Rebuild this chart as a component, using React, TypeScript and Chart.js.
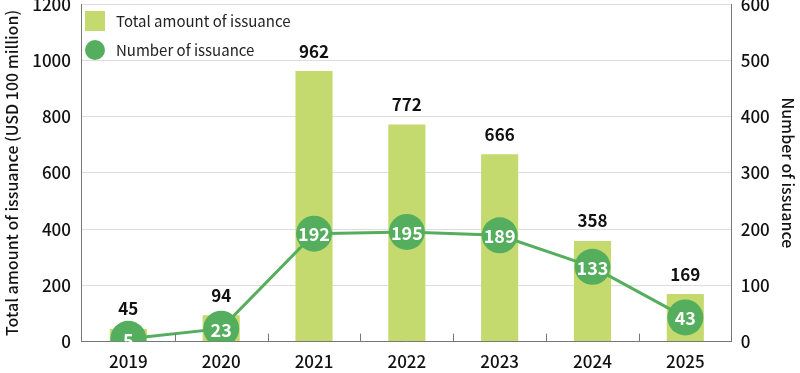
import React, { useEffect, useRef } from "react";
import { Chart, registerables } from "chart.js";

Chart.register(...registerables);

const years = ["2019", "2020", "2021", "2022", "2023", "2024", "2025"];
const totalAmount = [45, 94, 962, 772, 666, 358, 169];
const issuanceCount = [5, 23, 192, 195, 189, 133, 43];

const BAR_COLOR = "#c5da6e";
const POINT_COLOR = "#55ae5e";
const FONT = "'Noto Sans CJK JP', 'Noto Sans', sans-serif";
const SHIFT = 17;
const CANVAS_H = 399;

const labelPlugin = {
  id: "labels",
  afterDatasetsDraw(chart: any) {
    const ctx = chart.ctx;
    ctx.save();
    const barMeta = chart.getDatasetMeta(0);
    ctx.font = `bold 17px ${FONT}`;
    ctx.fillStyle = "#111";
    ctx.textAlign = "center";
    ctx.textBaseline = "middle";
    barMeta.data.forEach((el: any, i: number) => {
      ctx.fillText(String(totalAmount[i]), el.x, el.y - 20);
    });
    const lineMeta = chart.getDatasetMeta(1);
    ctx.font = `bold 18px ${FONT}`;
    ctx.fillStyle = "#ffffff";
    lineMeta.data.forEach((el: any, i: number) => {
      ctx.fillText(String(issuanceCount[i]), el.x, el.y + 1);
    });
    ctx.restore();
  },
};

const tickPlugin = {
  id: "innerTicks",
  afterDraw(chart: any) {
    const ctx = chart.ctx;
    const x = chart.scales.x;
    const area = chart.chartArea;
    ctx.save();
    ctx.strokeStyle = "#777";
    ctx.lineWidth = 1;
    for (let i = 1; i < years.length; i++) {
      const px = Math.round((x.getPixelForValue(i - 1) + x.getPixelForValue(i)) / 2) + 0.5;
      ctx.beginPath();
      ctx.moveTo(px, area.bottom);
      ctx.lineTo(px, area.bottom - 8);
      ctx.stroke();
    }
    ctx.restore();
  },
};

const plainTick = (v: any) => String(v);
const TICK_FONT = { family: FONT, size: 17, weight: 500 as any };

export default function App() {
  const ref = useRef<HTMLCanvasElement>(null);
  useEffect(() => {
    document.body.style.margin = "0";
    const chart = new Chart(ref.current!, {
      type: "bar",
      data: {
        labels: years,
        datasets: [
          {
            type: "bar",
            label: "Total amount of issuance",
            data: totalAmount,
            backgroundColor: BAR_COLOR,
            yAxisID: "y",
            barPercentage: 0.4,
            categoryPercentage: 1,
            order: 2,
          },
          {
            type: "line",
            label: "Number of issuance",
            data: issuanceCount,
            borderColor: POINT_COLOR,
            backgroundColor: POINT_COLOR,
            pointBackgroundColor: POINT_COLOR,
            pointBorderColor: POINT_COLOR,
            borderWidth: 3,
            pointRadius: 18,
            pointBorderWidth: 0,
            yAxisID: "y1",
            order: 1,
            tension: 0,
          } as any,
        ],
      },
      options: {
        responsive: false,
        animation: false,
        layout: { padding: { top: 0, left: 2, right: 2, bottom: 0 } },
        plugins: { legend: { display: false }, tooltip: { enabled: false } },
        scales: {
          x: {
            grid: { display: false, drawTicks: false },
            border: { color: "#777", width: 1 },
            ticks: { color: "#111", font: TICK_FONT, padding: 10 },
          },
          y: {
            position: "left",
            min: 0,
            max: 1200,
            ticks: { stepSize: 200, callback: plainTick, color: "#111", font: TICK_FONT, padding: 11 },
            grid: { color: "#dddddd", drawTicks: false },
            border: { color: "#777", width: 1 },
            title: {
              display: true,
              text: "Total amount of issuance (USD 100 million)",
              color: "#111",
              font: { family: FONT, size: 16, weight: 500 as any },
              padding: { top: 0, bottom: 0 },
            },
          },
          y1: {
            position: "right",
            min: 0,
            max: 600,
            ticks: { stepSize: 100, callback: plainTick, color: "#111", font: TICK_FONT, padding: 9 },
            grid: { display: false, drawTicks: false },
            border: { color: "#777", width: 1 },
            title: {
              display: true,
              text: "Number of issuance",
              color: "#111",
              font: { family: FONT, size: 16, weight: 500 as any },
              padding: { top: 0, bottom: 0 },
            },
          },
        },
      },
      plugins: [labelPlugin, tickPlugin],
    });
    return () => chart.destroy();
  }, []);

  return (
    <div style={{ position: "relative", width: 800, height: 373, overflow: "hidden" }}>
      <canvas
        ref={ref}
        width={800}
        height={CANVAS_H}
        style={{ display: "block", marginTop: -SHIFT }}
      />
      <div
        style={{
          position: "absolute",
          left: 85,
          top: 6,
          fontFamily: FONT,
          fontSize: 15,
          color: "#222",
          lineHeight: "29px",
        }}
      >
        <div style={{ display: "flex", alignItems: "center" }}>
          <span style={{ width: 20, height: 20, background: BAR_COLOR, display: "inline-block", marginRight: 11 }} />
          <span>Total amount of issuance</span>
        </div>
        <div style={{ display: "flex", alignItems: "center" }}>
          <span
            style={{ width: 20, height: 20, borderRadius: 10, background: POINT_COLOR, display: "inline-block", marginRight: 11 }}
          />
          <span>Number of issuance</span>
        </div>
      </div>
    </div>
  );
}
